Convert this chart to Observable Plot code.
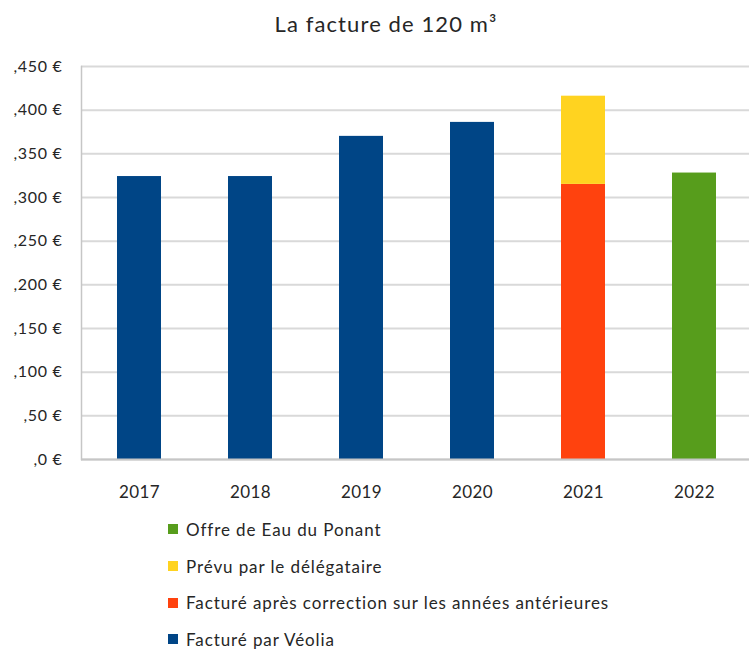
<!DOCTYPE html>
<html>
<head>
<meta charset="utf-8">
<script src="https://cdn.jsdelivr.net/npm/d3@7"></script>
<script src="https://cdn.jsdelivr.net/npm/@observablehq/plot@0.6"></script>
<style>
  html, body { margin: 0; padding: 0; background: #fff; overflow: hidden; width: 749px; height: 649px; }
  #wrap { position: relative; width: 749px; height: 649px; font-family: Lato, "Open Sans", sans-serif; color: #404040; }
  #title { position: absolute; left: 0; top: 10px; width: 772px; text-align: center; font-size: 22px; letter-spacing: 1.1px; color: #262626; }
  #chart { position: absolute; left: 0; top: 50px; width: 752px; }
  #chart svg { max-width: none !important; }
  #legend { position: absolute; left: 168px; top: 511px; }
  .row { display: flex; align-items: center; height: 36.7px; font-size: 17px; letter-spacing: 0.9px; color: #262626; }
  .sw { width: 10px; height: 10px; margin-right: 8px; }
</style>
</head>
<body>
<div id="wrap">
  <div id="title">La facture de 120 m³</div>
  <div id="chart"></div>
  <div id="legend"></div>
</div>
<script>
const years = ["2017", "2018", "2019", "2020", "2021", "2022"];
const seriesNames = [
  "Facturé par Véolia",
  "Facturé après correction sur les années antérieures",
  "Prévu par le délégataire",
  "Offre de Eau du Ponant"
];
const seriesColors = ["#004586", "#ff420e", "#ffd320", "#579d1c"];
const facturéVeolia = [324, 324, 370, 386, null, null];
const facturéCorrection = [null, null, null, null, 315, null];
const prévuDélégataire = [null, null, null, null, 101, null];
const offreEauPonant = [null, null, null, null, null, 328];
const yTicks = [0, 50, 100, 150, 200, 250, 300, 350, 400, 450];
const legendOrder = [3, 2, 1, 0];

const seriesValues = [facturéVeolia, facturéCorrection, prévuDélégataire, offreEauPonant];
const rows = [];
seriesValues.forEach((vals, si) => {
  vals.forEach((v, i) => {
    if (v != null) rows.push({ year: years[i], series: seriesNames[si], value: v });
  });
});

const chart = Plot.plot({
  width: 752,
  height: 470,
  marginLeft: 81,
  marginRight: 0,
  marginTop: 16,
  marginBottom: 61,
  style: { fontFamily: "Lato, 'Open Sans', sans-serif", fontSize: "13px", color: "#404040", background: "transparent", overflow: "visible", maxWidth: "none" },
  x: { domain: years, paddingInner: 0.6, paddingOuter: 0.3, label: null, tickSize: 0, tickPadding: 26 },
  y: { domain: [0, 450], ticks: yTicks, label: null, tickSize: 0, tickPadding: 19, tickFormat: d => "," + d + " €" },
  color: { domain: seriesNames, range: seriesColors },
  marks: [
    Plot.ruleY(yTicks, { stroke: "#d9d9d9", strokeWidth: 2 }),
    Plot.barY(rows, { x: "year", y: "value", fill: "series", order: null }),
    Plot.frame({ anchor: "left", stroke: "#c6c6c6", strokeWidth: 1.5 }),
    Plot.ruleY([0], { stroke: "#c6c6c6", strokeWidth: 2 })
  ]
});
chart.querySelectorAll("[aria-label='x-axis tick label']").forEach(g => {
  g.setAttribute("font-size", "17"); g.setAttribute("fill", "#262626"); g.setAttribute("letter-spacing", "0.4");
});
chart.querySelectorAll("[aria-label='y-axis tick label']").forEach(g => {
  g.setAttribute("font-size", "16"); g.setAttribute("fill", "#262626"); g.setAttribute("letter-spacing", "0.7");
});
document.getElementById("chart").appendChild(chart);

const color = chart.scale("color");
const legend = document.getElementById("legend");
legendOrder.forEach(i => {
  const name = seriesNames[i];
  const row = document.createElement("div");
  row.className = "row";
  const sw = document.createElement("div");
  sw.className = "sw";
  sw.style.background = color.apply(name);
  const label = document.createElement("span");
  label.textContent = name;
  row.appendChild(sw);
  row.appendChild(label);
  legend.appendChild(row);
});
</script>
</body>
</html>
